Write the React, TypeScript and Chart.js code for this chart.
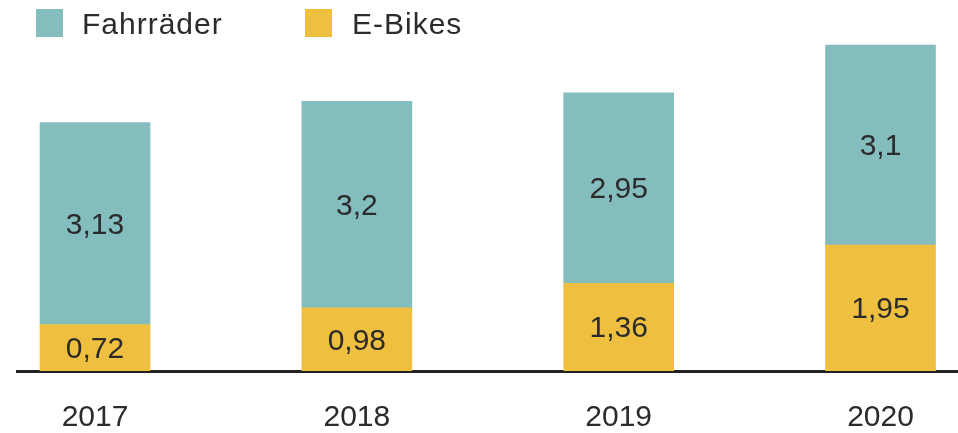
import React, { useEffect, useRef } from "react";
import { Chart, registerables } from "chart.js";

Chart.register(...registerables);

const categories = ["2017", "2018", "2019", "2020"];
const eBikes = [0.72, 0.98, 1.36, 1.95];
const fahrraeder = [3.13, 3.2, 2.95, 3.1];
const seriesNames = ["Fahrräder", "E-Bikes"];

const TEAL = "#84bdbe";
const YELLOW = "#efbf3f";
const TEXT = "#2b2b2b";
const FONT = "'Liberation Sans', Arial, sans-serif";

const fmt = (v: number) => String(v).replace(".", ",");

const valueLabels = {
  id: "valueLabels",
  afterDatasetsDraw(chart: any) {
    const ctx = chart.ctx;
    ctx.save();
    ctx.font = `30px ${FONT}`;
    ctx.fillStyle = TEXT;
    ctx.textAlign = "center";
    ctx.textBaseline = "middle";
    chart.data.datasets.forEach((ds: any, di: number) => {
      const meta = chart.getDatasetMeta(di);
      meta.data.forEach((el: any, i: number) => {
        const y = (el.y + el.base) / 2;
        ctx.fillText(fmt(ds.data[i].y), el.x, y + 2);
      });
    });
    ctx.restore();
  },
};

export default function App() {
  const ref = useRef<HTMLCanvasElement | null>(null);

  useEffect(() => {
    document.body.style.margin = "0";
    if (!ref.current) return;
    const chart = new Chart(ref.current, {
      type: "bar",
      data: {
        datasets: [
          {
            label: seriesNames[1],
            data: eBikes.map((v, i) => ({ x: i, y: v })),
            backgroundColor: YELLOW,
            barThickness: 110,
            borderWidth: 0,
          },
          {
            label: seriesNames[0],
            data: fahrraeder.map((v, i) => ({ x: i, y: v })),
            backgroundColor: TEAL,
            barThickness: 110,
            borderWidth: 0,
          },
        ],
      },
      plugins: [valueLabels],
      options: {
        animation: false,
        responsive: false,
        maintainAspectRatio: false,
        layout: { padding: { left: 17, right: 0, top: 0, bottom: 0 } },
        plugins: {
          legend: { display: false },
          tooltip: { enabled: false },
        },
        scales: {
          x: {
            type: "linear",
            stacked: true,
            offset: false,
            min: -0.298,
            max: 3.296,
            afterBuildTicks: (scale: any) => {
              scale.ticks = categories.map((_, i) => ({ value: i }));
            },
            afterFit: (scale: any) => {
              scale.height = 62;
            },
            ticks: {
              callback: (v: any) => categories[v as number] ?? "",
              font: { family: FONT, size: 30 },
              color: TEXT,
              padding: 29,
              maxRotation: 0,
              autoSkip: false,
            },
            grid: { display: false, drawTicks: false, offset: false },
            border: { display: true, color: "#222222", width: 3 },
          },
          y: {
            stacked: true,
            display: false,
            min: 0,
            max: 5.75,
          },
        },
      },
    });
    return () => chart.destroy();
  }, []);

  const legendText: React.CSSProperties = {
    position: "absolute",
    top: 6,
    fontFamily: FONT,
    fontSize: 30,
    letterSpacing: "1px",
    color: TEXT,
    lineHeight: "36px",
    whiteSpace: "nowrap",
  };
  const box = (color: string, left: number): React.CSSProperties => ({
    position: "absolute",
    top: 9,
    left,
    width: 27,
    height: 28,
    background: color,
  });

  return (
    <div style={{ position: "relative", width: 958, height: 433, background: "#fff" }}>
      <canvas ref={ref} width={958} height={433} style={{ display: "block" }} />
      <div style={box(TEAL, 36)} />
      <div style={{ ...legendText, left: 82 }}>{seriesNames[0]}</div>
      <div style={box(YELLOW, 305)} />
      <div style={{ ...legendText, left: 352 }}>{seriesNames[1]}</div>
    </div>
  );
}
